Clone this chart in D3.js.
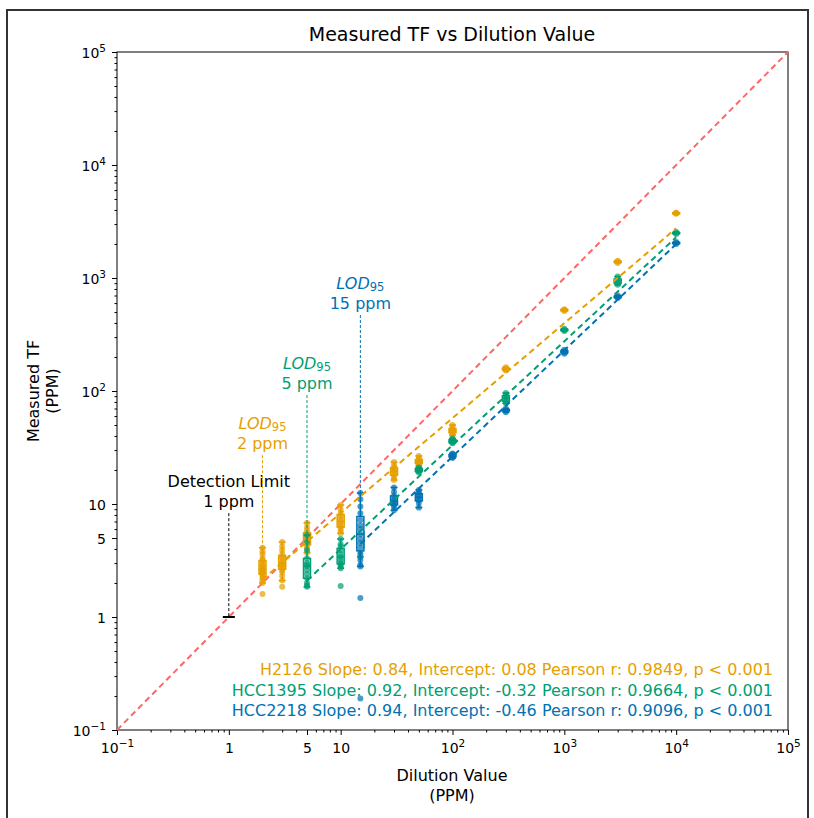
<!DOCTYPE html>
<html>
<head>
<meta charset="utf-8">
<script src="https://cdn.jsdelivr.net/npm/d3@7"></script>
<style>
body { margin: 0; background: #fff; }
text { font-family: "DejaVu Sans", sans-serif; }
</style>
</head>
<body>
<div id="chart"></div>
<script>
// ---- data ----
const seriesNames = ["H2126", "HCC1395", "HCC2218"];
const slopes = [0.84, 0.92, 0.94];
const intercepts = [0.08, -0.32, -0.46];
const pearsonR = [0.9849, 0.9664, 0.9096];

// [dilution, measured values, outliers]
const h2126 = [
  [2, [4.1, 3.8, 3.6, 3.3, 3.2, 3.0, 2.9, 2.8, 2.7, 2.6, 2.5, 2.5, 2.4, 2.4, 2.3, 2.2, 2.1, 2.0], [1.6]],
  [3, [4.6, 4.2, 3.9, 3.6, 3.4, 3.3, 3.1, 3.0, 2.9, 2.8, 2.7, 2.6, 2.5, 2.3, 2.1], [1.85]],
  [5, [6.8, 6.2, 5.8, 5.5, 5.2, 5.0, 4.8, 4.6, 4.4, 4.2, 4.0, 3.7], []],
  [10, [9.8, 9.0, 8.3, 7.8, 7.4, 7.0, 6.7, 6.4, 6.1, 5.8, 5.5], []],
  [30, [23.5, 22, 21, 20, 19.5, 19, 18, 17, 16.3], []],
  [50, [26.6, 25.5, 24.5, 24, 23.5, 23, 22.5, 21.9], []],
  [100, [50, 48, 46, 45, 44, 43, 42, 40.6], []],
  [300, [162, 158, 155, 152], []],
  [1000, [530, 520, 510], []],
  [3000, [1420, 1390, 1360], []],
  [10000, [3800, 3750, 3700], []]
];
const hcc1395 = [
  [5, [5.3, 4.6, 3.9, 3.3, 3.0, 2.9, 2.8, 2.6, 2.4, 2.2, 2.0, 1.9, 1.85], []],
  [10, [4.9, 4.4, 4.2, 3.9, 3.6, 3.4, 3.2, 3.0, 2.9, 2.8, 2.7], [1.88]],
  [15, [7.0, 6.2, 5.5, 5.0, 4.6, 4.2, 3.8, 3.4], []],
  [50, [21, 20.5, 20, 19.5, 19], []],
  [100, [38, 37, 36, 35, 34.5], []],
  [300, [96, 92, 88, 84, 80, 78], []],
  [1000, [355, 347, 340], []],
  [3000, [1030, 980, 940, 900, 870], []],
  [10000, [2550, 2500, 2450], []]
];
const hcc2218 = [
  [15, [12.5, 11, 9.5, 8.3, 7.2, 6.5, 6.0, 5.4, 4.9, 4.5, 4.1, 3.6, 3.2, 2.9, 2.8], [1.47, 0.19]],
  [30, [14, 12.8, 11.8, 11, 10.6, 10.2, 9.8, 9.4, 8.8], []],
  [50, [13.3, 12.7, 12.2, 11.8, 11.2, 10.8, 10.2, 9.3], []],
  [100, [28, 27.5, 27, 26.5, 26, 25.5], []],
  [300, [70, 68, 67, 65], []],
  [1000, [232, 225, 220, 214], []],
  [3000, [700, 680, 665], []],
  [10000, [2080, 2040, 2000], []]
];

// annotations: x position, line bottom (data), line top (data), two text lines
const annoX = [1, 2, 5, 15];
const annoBottom = [1, 4.1, 5.5, 11.5];
const annoTop = [8.3, 27, 92, 470];
const annoTitle = ["Detection Limit", "LOD", "LOD", "LOD"];
const annoValue = ["1 ppm", "2 ppm", "5 ppm", "15 ppm"];

const majorTicks = [0.1, 1, 5, 10, 100, 1000, 10000, 100000];

// ---- layout ----
const W = 814, H = 818;
const colors = ["#E69F00", "#009E73", "#0072B2"];
const annoColors = ["#000000", "#E69F00", "#009E73", "#0072B2"];
const seriesData = [h2126, hcc1395, hcc2218];

const svg = d3.select("#chart").append("svg").attr("width", W).attr("height", H);

// outer frame
svg.append("rect").attr("x", 7).attr("y", 10).attr("width", 801).attr("height", 830)
  .attr("fill", "none").attr("stroke", "#333").attr("stroke-width", 2);

const x = d3.scaleLog().domain([0.1, 1e5]).range([117, 788]);
const y = d3.scaleLog().domain([0.1, 1e5]).range([730, 52]);

// minor ticks
let minor = [];
for (let e = -1; e < 5; e++) {
  for (let k = 2; k <= 9; k++) minor.push(k * Math.pow(10, e));
}
minor = minor.filter(v => !majorTicks.some(m => Math.abs(m - v) < 1e-9));

function labelTick(sel) {
  sel.each(function(d) {
    const t = d3.select(this);
    const e = Math.round(Math.log10(d));
    if (d === 1 || d === 5 || d === 10) { t.text(String(d)); return; }
    t.text("10");
    t.append("tspan").attr("dy", "-0.55em").attr("font-size", "10.5px")
      .text(e < 0 ? "\u2212" + Math.abs(e) : String(e));
  });
}

svg.append("g").attr("transform", "translate(0,730)")
  .call(d3.axisBottom(x).tickValues(minor).tickSize(2.5).tickFormat(""));
svg.append("g").attr("transform", "translate(117,0)")
  .call(d3.axisLeft(y).tickValues(minor).tickSize(2.5).tickFormat(""));

const xAx = svg.append("g").attr("transform", "translate(0,730)")
  .call(d3.axisBottom(x).tickValues(majorTicks).tickSize(5).tickPadding(8).tickFormat(""));
xAx.selectAll(".tick text").attr("font-size", "14px").attr("fill", "#000").call(labelTick);
const yAx = svg.append("g").attr("transform", "translate(117,0)")
  .call(d3.axisLeft(y).tickValues(majorTicks).tickSize(5).tickPadding(6).tickFormat(""));
yAx.selectAll(".tick text").attr("font-size", "14px").attr("fill", "#000").call(labelTick);
yAx.selectAll(".tick text").attr("dy", "0.4em");
svg.selectAll(".domain").remove();

// frame of the plot
svg.append("rect").attr("x", 117).attr("y", 52).attr("width", 671).attr("height", 678)
  .attr("fill", "none").attr("stroke", "#000").attr("stroke-width", 1);

const plot = svg.append("g");

// identity line
plot.append("line")
  .attr("x1", x(0.1)).attr("y1", y(0.1)).attr("x2", x(1e5)).attr("y2", y(1e5))
  .attr("stroke", "#ff6666").attr("stroke-width", 2).attr("stroke-dasharray", "6,4");

// box plots + points
const bw = 7;
seriesData.forEach((groups, si) => {
  const g = plot.append("g");
  groups.forEach(([dil, vals, outs]) => {
    const s = vals.slice().sort(d3.ascending);
    const q1 = d3.quantile(s, 0.25), med = d3.quantile(s, 0.5), q3 = d3.quantile(s, 0.75);
    const lo = s[0], hi = s[s.length - 1];
    const cx = x(dil);
    const c = colors[si];
    g.append("line").attr("x1", cx).attr("x2", cx).attr("y1", y(hi)).attr("y2", y(q3))
      .attr("stroke", c).attr("stroke-width", 1.5);
    g.append("line").attr("x1", cx).attr("x2", cx).attr("y1", y(q1)).attr("y2", y(lo))
      .attr("stroke", c).attr("stroke-width", 1.5);
    [lo, hi].forEach(v => g.append("line").attr("x1", cx - bw / 2).attr("x2", cx + bw / 2)
      .attr("y1", y(v)).attr("y2", y(v)).attr("stroke", c).attr("stroke-width", 1.5));
    g.append("rect").attr("x", cx - bw / 2).attr("width", bw)
      .attr("y", y(q3)).attr("height", Math.max(1, y(q1) - y(q3)))
      .attr("fill", "#fff").attr("stroke", c).attr("stroke-width", 1.5);
    g.append("line").attr("x1", cx - bw / 2).attr("x2", cx + bw / 2)
      .attr("y1", y(med)).attr("y2", y(med)).attr("stroke", c).attr("stroke-width", 1.5);
    g.selectAll(null).data(vals.concat(outs)).join("circle")
      .attr("cx", cx).attr("cy", d => y(d)).attr("r", 3)
      .attr("fill", c).attr("opacity", 0.7);
  });
});

// regression lines
seriesData.forEach((groups, si) => {
  const xs = d3.extent(groups, d => d[0]);
  plot.append("line")
    .attr("x1", x(xs[0])).attr("y1", y(Math.pow(10, slopes[si] * Math.log10(xs[0]) + intercepts[si])))
    .attr("x2", x(xs[1])).attr("y2", y(Math.pow(10, slopes[si] * Math.log10(xs[1]) + intercepts[si])))
    .attr("stroke", colors[si]).attr("stroke-width", 2).attr("stroke-dasharray", "6,4");
});

// annotations
annoX.forEach((ax, i) => {
  const c = annoColors[i];
  const cx = x(ax), top = y(annoTop[i]);
  plot.append("line").attr("x1", cx).attr("x2", cx).attr("y1", top).attr("y2", y(annoBottom[i]))
    .attr("stroke", c).attr("stroke-width", 1).attr("stroke-dasharray", "3,2");
  const t1 = plot.append("text").attr("x", cx).attr("y", top - 26)
    .attr("text-anchor", "middle").attr("font-size", "16px").attr("fill", c);
  if (i === 0) {
    t1.text(annoTitle[i]);
  } else {
    t1.append("tspan").attr("font-style", "italic").text(annoTitle[i]);
    t1.append("tspan").attr("font-size", "11.5px").attr("dy", "0.15em").text("95");
  }
  plot.append("text").attr("x", cx).attr("y", top - 6)
    .attr("text-anchor", "middle").attr("font-size", "16px").attr("fill", c).text(annoValue[i]);
});
// detection limit mark
plot.append("line").attr("x1", x(1) - 6).attr("x2", x(1) + 6).attr("y1", y(1)).attr("y2", y(1))
  .attr("stroke", "#000").attr("stroke-width", 2);

// stats text
seriesNames.forEach((n, i) => {
  svg.append("text").attr("x", 773).attr("y", 675 + i * 20.5)
    .attr("text-anchor", "end").attr("font-size", "16px").attr("fill", colors[i])
    .text(`${n} Slope: ${slopes[i].toFixed(2)}, Intercept: ${intercepts[i].toFixed(2)} Pearson r: ${pearsonR[i].toFixed(4)}, p < 0.001`);
});

// titles
svg.append("text").attr("x", 452).attr("y", 41).attr("text-anchor", "middle")
  .attr("font-size", "19px").text("Measured TF vs Dilution Value");
svg.append("text").attr("x", 452).attr("y", 781).attr("text-anchor", "middle")
  .attr("font-size", "16px").text("Dilution Value");
svg.append("text").attr("x", 452).attr("y", 801).attr("text-anchor", "middle")
  .attr("font-size", "16px").text("(PPM)");
svg.append("text").attr("transform", "translate(39,391) rotate(-90)").attr("text-anchor", "middle")
  .attr("font-size", "16px").text("Measured TF");
svg.append("text").attr("transform", "translate(58,391) rotate(-90)").attr("text-anchor", "middle")
  .attr("font-size", "16px").text("(PPM)");
</script>
</body>
</html>
